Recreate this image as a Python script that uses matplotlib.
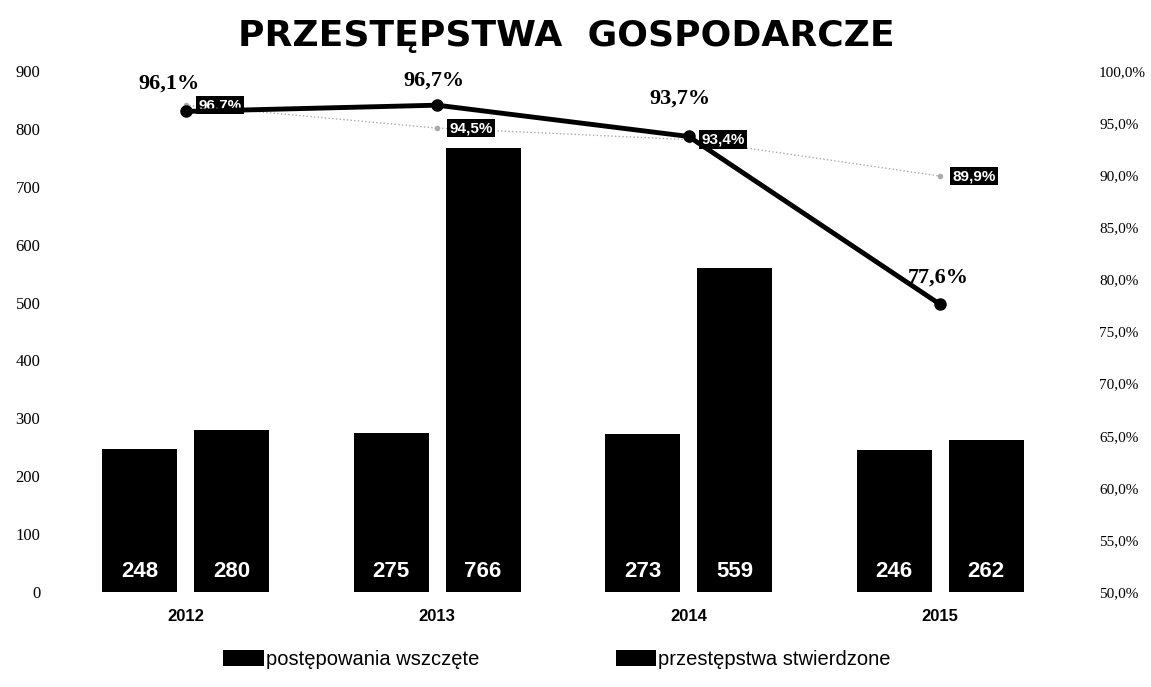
import numpy as np
import matplotlib
matplotlib.use('Agg')
import matplotlib.pyplot as plt

years = ['2012', '2013', '2014', '2015']
wszczete = [248, 275, 273, 246]
stwierdzone = [280, 766, 559, 262]
wykrywalnosc = [96.1, 96.7, 93.7, 77.6]
wykrywalnosc2 = [96.7, 94.5, 93.4, 89.9]
left_ticks = [0, 100, 200, 300, 400, 500, 600, 700, 800, 900]
right_ticks = [50, 55, 60, 65, 70, 75, 80, 85, 90, 95, 100]

fig = plt.figure(figsize=(11.51, 6.87), dpi=100)
ax = fig.add_axes([0.052, 0.138, 0.874, 0.759])
x = np.arange(len(years))
w = 0.298
off = 0.183
b1 = ax.bar(x - off, wszczete, w, color='black', label='postępowania wszczęte')
b2 = ax.bar(x + off, stwierdzone, w, color='black', label='przestępstwa stwierdzone')
for bars in (b1, b2):
    for r in bars:
        ax.text(r.get_x() + r.get_width() / 2, 35, f'{int(r.get_height())}',
                ha='center', va='center', color='white', fontsize=16,
                fontweight='bold', family='Liberation Sans')
ax.set_xlim(-0.5, 3.5)
ax.set_ylim(0, 900)
ax.set_yticks(left_ticks)
ax.set_yticklabels([str(t) for t in left_ticks], family='Liberation Serif', fontsize=12)
ax.set_xticks(x)
ax.set_xticklabels(years, fontsize=12, fontweight='bold', family='Liberation Sans')
ax.tick_params(length=0)
ax.tick_params(axis='y', pad=14)
ax.tick_params(axis='x', pad=12)
for s in ax.spines.values():
    s.set_visible(False)

ax2 = ax.twinx()
ax2.set_ylim(50, 100)
ax2.set_yticks(right_ticks)
ax2.set_yticklabels([f'{t:.1f}%'.replace('.', ',') for t in right_ticks],
                    family='Liberation Serif', fontsize=11)
ax2.tick_params(length=0, pad=24)
for s in ax2.spines.values():
    s.set_visible(False)

ax2.plot(x, wykrywalnosc2, color='#aaaaaa', lw=1, ls=':', marker='o', ms=3, zorder=3)
ax2.plot(x, wykrywalnosc, color='black', lw=3.5, marker='o', ms=8, zorder=4)
label_offsets = [(-12, 20), (-2, 18), (-6, 27), (-1, 19)]
for xi, v, o in zip(x, wykrywalnosc, label_offsets):
    ax2.annotate(f'{v:.1f}%'.replace('.', ','), (xi, v), xytext=o,
                 textcoords='offset points', ha='center', va='center',
                 family='Liberation Serif', fontsize=16, fontweight='bold')
for xi, v in zip(x, wykrywalnosc2):
    ax2.annotate(f'{v:.1f}%'.replace('.', ','), (xi, v), xytext=(9, 0),
                 textcoords='offset points', ha='left', va='center',
                 color='white', fontsize=11, fontweight='bold', family='Liberation Sans',
                 bbox=dict(boxstyle='square,pad=0.15', fc='black', ec='none'))

fig.text(0.492, 0.948, 'PRZESTĘPSTWA  GOSPODARCZE', ha='center', va='center',
         fontsize=26, fontweight='heavy')
fig.legend(handles=[b1, b2], loc='center', bbox_to_anchor=(0.484, 0.04), ncol=2,
           frameon=False, prop={'family': 'Liberation Sans', 'size': 14.5},
           handlelength=2.0, handleheight=0.8,
           handletextpad=0.1, columnspacing=6.8)
fig.savefig('out.png', dpi=100)
